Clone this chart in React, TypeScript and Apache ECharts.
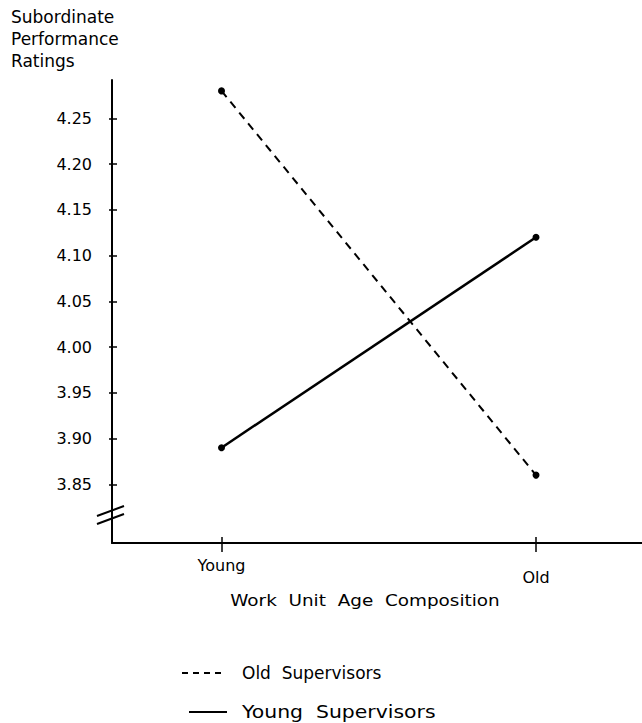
import React, { useEffect, useRef } from 'react';
import * as echarts from 'echarts';

const categories = ['Young', 'Old'];
const seriesNames = ['Old Supervisors', 'Young Supervisors'];
const oldSupervisors = [4.28, 3.86];
const youngSupervisors = [3.89, 4.12];
const yTicks = [3.85, 3.9, 3.95, 4.0, 4.05, 4.1, 4.15, 4.2, 4.25];
const xTicks = [0, 1];
const yTitle = 'Subordinate\nPerformance\nRatings';
const xTitle = 'Work Unit Age Composition';

const FONT = 'DejaVu Sans';

export default function App() {
  const ref = useRef<HTMLDivElement>(null);
  useEffect(() => {
    document.body.style.margin = '0';
    const chart = echarts.init(ref.current!, null, { renderer: 'svg' });
    const yMin = 3.7858;
    const yMax = 4.2919;
    const xMin = -0.3482;
    const xMax = 1.337;
    const black = '#000';
    const spaced = (s: string) => s.split(' ').join('  ');
    chart.setOption({
      animation: false,
      backgroundColor: '#fff',
      grid: { left: 112, top: 80, width: 530, height: 463, containLabel: false },
      xAxis: [
        {
          type: 'value',
          min: xMin,
          max: xMax,
          position: 'bottom',
          axisLine: { show: true, onZero: false, lineStyle: { color: black, width: 2 } },
          axisTick: { show: true, customValues: xTicks, length: 9, lineStyle: { color: black, width: 1.5 } },
          axisLabel: {
            show: true,
            customValues: xTicks,
            margin: 14,
            formatter: (v: number) => (Math.round(v) === 0 ? '{y|' + categories[0] + '}' : '{o|' + categories[1] + '}'),
            rich: {
              y: { fontFamily: FONT, fontSize: 16, color: black },
              o: { fontFamily: FONT, fontSize: 16, color: black, padding: [12, 0, 0, 0] },
            },
          },
          splitLine: { show: false },
        },
        {
          type: 'value',
          min: xMin,
          max: xMax,
          position: 'bottom',
          axisLine: { show: false, onZero: false },
          axisTick: { show: true, inside: true, customValues: xTicks, length: 6, lineStyle: { color: black, width: 1.5 } },
          axisLabel: { show: false },
          splitLine: { show: false },
        },
      ],
      yAxis: [
        {
          type: 'value',
          min: yMin,
          max: yMax,
          position: 'left',
          axisLine: { show: true, onZero: false, lineStyle: { color: black, width: 2 } },
          axisTick: { show: true, customValues: yTicks, length: 3, lineStyle: { color: black, width: 1.5 } },
          axisLabel: {
            show: true,
            customValues: yTicks,
            margin: 20,
            formatter: (v: number) => v.toFixed(2),
            fontFamily: FONT,
            fontSize: 16,
            color: black,
          },
          splitLine: { show: false },
        },
        {
          type: 'value',
          min: yMin,
          max: yMax,
          position: 'left',
          axisLine: { show: false, onZero: false },
          axisTick: { show: true, inside: true, customValues: yTicks, length: 5, lineStyle: { color: black, width: 1.5 } },
          axisLabel: { show: false },
          splitLine: { show: false },
        },
      ],
      series: [
        {
          name: seriesNames[0],
          type: 'line',
          xAxisIndex: 0,
          yAxisIndex: 0,
          data: categories.map((_, i) => [i, oldSupervisors[i]]),
          symbol: 'circle',
          symbolSize: 7,
          itemStyle: { color: black },
          lineStyle: { color: black, width: 2, type: [8, 6] },
        },
        {
          name: seriesNames[1],
          type: 'line',
          xAxisIndex: 0,
          yAxisIndex: 0,
          data: categories.map((_, i) => [i, youngSupervisors[i]]),
          symbol: 'circle',
          symbolSize: 7,
          itemStyle: { color: black },
          lineStyle: { color: black, width: 2.5, type: 'solid' },
        },
      ],
      graphic: [
        {
          type: 'text',
          x: 11,
          y: 6,
          style: { text: yTitle, font: '17px "DejaVu Sans"', lineHeight: 22, fill: black },
        },
        {
          type: 'text',
          x: 365,
          y: 600,
          scaleX: 1.15,
          style: {
            text: spaced(xTitle),
            font: '16px "DejaVu Sans"',
            fill: black,
            textAlign: 'center',
            textVerticalAlign: 'middle',
          },
        },
        { type: 'line', shape: { x1: 97, y1: 516, x2: 124, y2: 506 }, style: { stroke: black, lineWidth: 2 } },
        { type: 'line', shape: { x1: 97, y1: 524, x2: 124, y2: 514 }, style: { stroke: black, lineWidth: 2 } },
        {
          type: 'line',
          shape: { x1: 182, y1: 673, x2: 222, y2: 673 },
          style: { stroke: black, lineWidth: 2, lineDash: [6, 5] },
        },
        {
          type: 'text',
          x: 242,
          y: 673,
          style: { text: spaced(seriesNames[0]), font: '17px "DejaVu Sans"', fill: black, textVerticalAlign: 'middle' },
        },
        { type: 'line', shape: { x1: 189, y1: 712, x2: 227, y2: 712 }, style: { stroke: black, lineWidth: 2 } },
        {
          type: 'text',
          x: 242,
          y: 712,
          scaleX: 1.2,
          style: { text: spaced(seriesNames[1]), font: '17px "DejaVu Sans"', fill: black, textVerticalAlign: 'middle' },
        },
      ],
    });
    return () => chart.dispose();
  }, []);
  return <div ref={ref} style={{ width: 642, height: 723 }} />;
}
